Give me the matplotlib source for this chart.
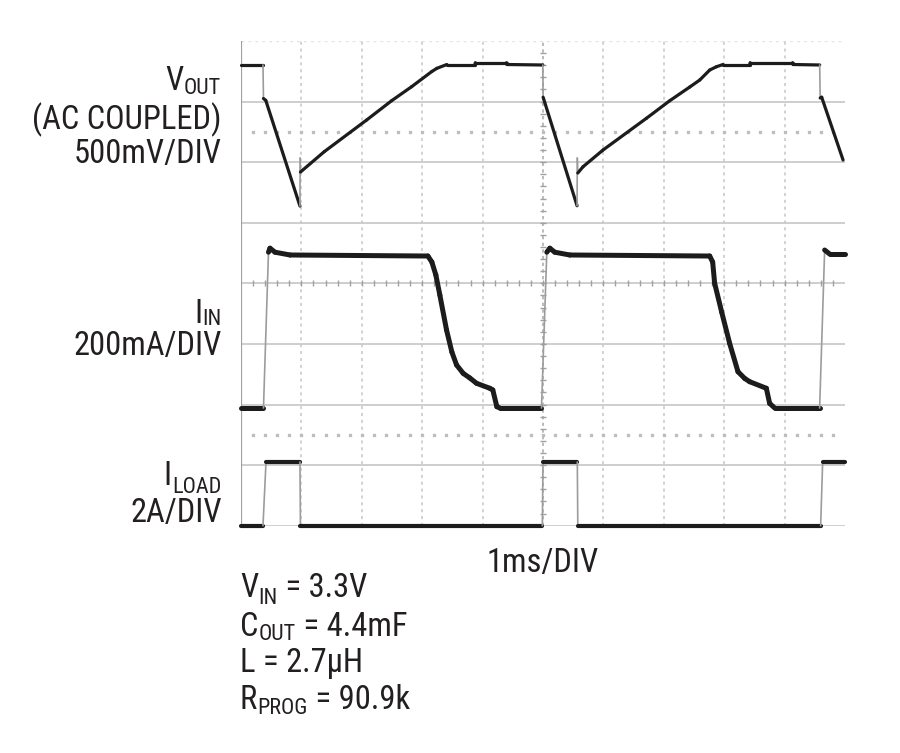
import os
import numpy as np
import matplotlib
matplotlib.use('Agg')
import matplotlib.pyplot as plt
from matplotlib import font_manager
from matplotlib.collections import LineCollection
from matplotlib.font_manager import FontProperties
from matplotlib.transforms import IdentityTransform

# time in ms (1ms/DIV), trace position in screen divisions (0 = bottom, 8 = top)
t_vout = [0.000, 0.364, 0.372, 0.410, 0.976, 0.980, 0.984, 1.378, 2.080, 2.493,
          2.824, 3.160, 3.243, 3.408, 3.872, 3.880, 4.396, 4.404, 4.997,
          5.002, 5.564, 5.568, 5.576, 5.663, 5.994, 6.712, 7.098, 7.429, 7.595,
          7.760, 7.871, 7.980, 8.422, 8.430, 9.133, 9.141, 9.581, 9.589, 9.614,
          9.968]
v_vout = [7.604, 7.604, 7.050, 7.020, 5.276, 6.068, 5.837, 6.173, 6.696, 7.014,
          7.245, 7.497, 7.549, 7.612, 7.612, 7.642, 7.642, 7.612, 7.604,
          7.072, 5.281, 6.068, 5.821, 5.925, 6.201, 6.724, 7.014, 7.240, 7.356,
          7.521, 7.575, 7.612, 7.612, 7.642, 7.642, 7.612, 7.604, 7.059, 7.072,
          6.036]

t_iin = [0.000, 0.372, 0.455, 0.480, 0.563, 0.811, 3.094, 3.160, 3.226, 3.292,
         3.403, 3.491, 3.569, 3.678, 3.789, 3.900, 4.120, 4.169, 4.236, 4.285,
         4.975, 5.063, 5.113, 5.195, 5.443, 7.760, 7.809, 7.842, 7.958, 8.090,
         8.228, 8.340, 8.421, 8.698, 8.752, 8.835, 9.580, 9.663, 9.746, 10.000]
v_iin = [1.943, 1.943, 4.514, 4.580, 4.514, 4.468, 4.451, 4.352, 4.138, 3.808,
         3.230, 2.867, 2.653, 2.515, 2.438, 2.350, 2.268, 2.240, 1.964, 1.943,
         1.943, 4.514, 4.580, 4.514, 4.468, 4.451, 4.352, 4.001, 3.527, 3.010,
         2.542, 2.430, 2.377, 2.268, 2.020, 1.943, 1.943, 4.550, 4.484, 4.484]

t_iload = [0.000, 0.364, 0.414, 0.976, 0.984, 4.989, 5.000, 5.568, 5.576,
           9.597, 9.630, 10.000]
v_iload = [0.000, 0.000, 1.051, 1.051, 0.000, 0.000, 1.051, 1.051, 0.000,
           0.000, 1.051, 1.051]

W, H = 900, 753
INK = '#231f20'

# prefer a condensed sans face if one is installed, like the original
wanted = ['LiberationSansNarrow-Regular.ttf', 'RobotoCondensed-Regular.ttf',
          'NotoSans-Condensed.ttf', 'OpenSans-CondensedRegular.ttf',
          'OpenSans_Condensed-Regular.ttf', 'DejaVuSansCondensed.ttf']
files = {os.path.basename(f.fname): f.fname for f in font_manager.fontManager.ttflist}
FONT_FILE = next((files[w] for w in wanted if w in files), None)


def fprop(size):
    if FONT_FILE:
        return FontProperties(fname=FONT_FILE, size=size)
    return FontProperties(family='Liberation Sans', size=size)


fig = plt.figure(figsize=(W / 100, H / 100), dpi=100)
renderer = fig.canvas.get_renderer()

probe = fig.text(0, 0, '(AC COUPLED)', fontproperties=fprop(24),
                 transform=IdentityTransform())
scale = min(1.0, 187 / probe.get_window_extent(renderer).width) ** 0.6
probe.remove()
BIG = 24 * scale
SUB = BIG * 0.68

ax = fig.add_axes([241 / W, (H - 525.7) / H, 604 / W, 484.7 / H])
ax.set_xlim(0, 10)
ax.set_ylim(0, 8)
ax.axis('off')

# graticule
for k in range(1, 8):
    ax.axhline(k, color='#cacaca', lw=1.3, zorder=1)
ax.axhline(0, color='#cacaca', lw=1.3, zorder=1)
ax.axhline(8, color='#e4e4e4', lw=1.0, ls=(0, (2, 3)), zorder=1)
for k in range(1, 10):
    if k != 5:
        ax.axvline(k, color='#c6c6c6', lw=1.1, ls=(0, (2, 2.5)), zorder=1)
ax.axvline(5, color='#b0b0b0', lw=1.2, ls=(0, (2, 2)), zorder=1)
ax.axvline(0, color='#a0a0a0', lw=1.6, zorder=1)

minor = np.arange(0.2, 10, 0.2)
ax.plot(minor, np.full_like(minor, 4), ls='none', marker='|', ms=4,
        mew=1.0, color='#a0a0a0', zorder=1)
vminor = np.arange(0.2, 8, 0.2)
ax.plot(np.full_like(vminor, 5), vminor, ls='none', marker='_', ms=4,
        mew=1.0, color='#a0a0a0', zorder=1)
for yy in (6.5, 1.5):
    ax.plot(minor, np.full_like(minor, yy), ls='none', marker='s', ms=1.6,
            color='#bdbdbd', zorder=1)


def draw_trace(t, y, lw, steep=15):
    pts = np.column_stack([t, y])
    segs = np.stack([pts[:-1], pts[1:]], axis=1)
    slope = np.abs(np.diff(y)) / np.maximum(np.diff(t), 1e-9)
    fast = slope > steep
    colors = ['#9c9c9c' if f else '#1c1c1c' for f in fast]
    widths = [1.2 if f else lw for f in fast]
    lc = LineCollection(segs, colors=colors, linewidths=widths,
                        capstyle='round', joinstyle='round', zorder=3)
    lc.set_clip_on(False)
    ax.add_collection(lc)


draw_trace(t_vout, v_vout, 2.3)
draw_trace(t_iin, v_iin, 3.6)
draw_trace(t_iload, v_iload, 3.0)


def text_runs(x, y_base, runs, align='left'):
    objs = []
    widths = []
    for s, size, dy in runs:
        t = fig.text(0, 0, s, fontproperties=fprop(size), color=INK,
                     va='baseline', ha='left', transform=IdentityTransform())
        widths.append(t.get_window_extent(renderer).width)
        objs.append((t, dy))
    total = sum(widths)
    if align == 'right':
        x0 = x - total
    elif align == 'center':
        x0 = x - total / 2
    else:
        x0 = x
    for (t, dy), w in zip(objs, widths):
        t.set_position((x0, H - (y_base + dy)))
        x0 += w


text_runs(221, 90, [('V', BIG, 0), ('OUT', SUB, 4)], 'right')
text_runs(221, 129.3, [('(AC COUPLED)', BIG, 0)], 'right')
text_runs(222, 162.7, [('500mV/DIV', BIG, 0)], 'right')
text_runs(222, 323.3, [('I', BIG, 0), ('IN', SUB, 2)], 'right')
text_runs(222, 355, [('200mA/DIV', BIG, 0)], 'right')
text_runs(221, 485, [('I', BIG, 0), ('LOAD', SUB, 8)], 'right')
text_runs(222, 521.7, [('2A/DIV', BIG, 0)], 'right')
text_runs(542.5, 571.7, [('1ms/DIV', BIG, 0)], 'center')
text_runs(240, 597, [('V', BIG, 0), ('IN', SUB, 7), (' = 3.3V', BIG, 0)])
text_runs(240, 636, [('C', BIG, 0), ('OUT', SUB, 4), (' = 4.4mF', BIG, 0)])
text_runs(240, 672, [('L = 2.7µH', BIG, 0)])
text_runs(240, 709, [('R', BIG, 0), ('PROG', SUB, 5), (' = 90.9k', BIG, 0)])

fig.savefig('out.png', dpi=100)
